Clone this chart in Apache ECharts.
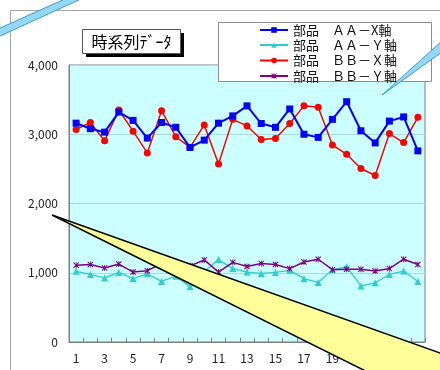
<!DOCTYPE html>
<html>
<head>
<meta charset="utf-8">
<script src="https://cdn.jsdelivr.net/npm/echarts@6/dist/echarts.min.js"></script>
<style>
  html, body { margin: 0; padding: 0; background: #ffffff; }
  #chart { width: 440px; height: 370px; }
</style>
</head>
<body>
<div id="chart"></div>
<script>
// Sample index (time steps)
const categories = ['1','2','3','4','5','6','7','8','9','10','11','12','13','14','15','16','17','18','19','20','21','22','23','24','25'];

// Measured values per part and axis
const aaX = [3160, 3080, 3030, 3320, 3200, 2945, 3170, 3100, 2810, 2915, 3160, 3265, 3410, 3155, 3100, 3365, 3000, 2955, 3215, 3470, 3050, 2875, 3190, 3250, 2760];
const aaY = [1020, 975, 925, 1005, 915, 985, 875, 950, 800, 1010, 1190, 1060, 1010, 990, 1005, 1035, 915, 860, 1045, 1085, 810, 855, 975, 1025, 875];
const bbX = [3070, 3170, 2905, 3350, 3045, 2730, 3340, 2965, 2810, 3135, 2570, 3215, 3120, 2925, 2940, 3155, 3410, 3390, 2845, 2710, 2505, 2405, 3010, 2880, 3245];
const bbY = [1110, 1120, 1070, 1125, 1010, 1030, 1130, 1090, 1100, 1185, 1010, 1150, 1090, 1135, 1120, 1060, 1155, 1195, 1045, 1050, 1050, 1025, 1060, 1195, 1120];

const seriesNames = ['部品　ＡＡ－X軸', '部品　ＡＡ－Ｙ軸', '部品　ＢＢ－Ｘ軸', '部品　ＢＢ－Ｙ軸'];
const yTicks = { min: 0, max: 4000, step: 1000 };

const FONT = '"Noto Sans CJK JP", "Noto Sans", sans-serif';
const starMark = 'path://M0,1.2 L1.2,0 L5,3.8 L8.8,0 L10,1.2 L6.2,5 L10,8.8 L8.8,10 L5,6.2 L1.2,10 L0,8.8 L3.8,5 Z M4.3,0 L5.7,0 L5.7,10 L4.3,10 Z';

const chart = echarts.init(document.getElementById('chart'), null, { renderer: 'canvas' });

function legendRow(name, centerY) {
  return {
    data: [name],
    left: 259,
    top: centerY - 8,
    padding: 0,
    itemWidth: 28,
    itemHeight: 7,
    itemGap: 0,
    selectedMode: false,
    z: 20,
    textStyle: { fontFamily: FONT, fontSize: 13, color: '#111', lineHeight: 16 }
  };
}

chart.setOption({
  animation: false,
  backgroundColor: '#ffffff',
  grid: {
    left: 69, right: 15, top: 65, bottom: 28,
    show: true,
    backgroundColor: '#CCFFFF',
    borderColor: '#7f7f7f',
    borderWidth: 1
  },
  legend: [
    legendRow(seriesNames[0], 30),
    legendRow(seriesNames[1], 45),
    legendRow(seriesNames[2], 60.5),
    legendRow(seriesNames[3], 76)
  ],
  xAxis: {
    type: 'category',
    data: categories,
    boundaryGap: true,
    axisLine: { show: true, lineStyle: { color: '#7f7f7f', width: 1 } },
    axisTick: { show: true, inside: true, length: 4, interval: 0, lineStyle: { color: '#7f7f7f' } },
    axisLabel: { interval: 1, margin: 10, fontFamily: FONT, fontSize: 12, color: '#222' },
    splitLine: { show: false }
  },
  yAxis: {
    type: 'value',
    min: yTicks.min, max: yTicks.max, interval: yTicks.step,
    axisLine: { show: true, lineStyle: { color: '#7f7f7f', width: 1 } },
    axisTick: { show: false },
    axisLabel: {
      margin: 11, fontFamily: FONT, fontSize: 12, color: '#222',
      formatter: v => v.toLocaleString('en-US')
    },
    splitLine: { show: true, lineStyle: { color: '#A8DEDE', width: 1 } }
  },
  series: [
    {
      name: seriesNames[0], type: 'line', data: aaX,
      symbol: 'rect', symbolSize: 7, z: 4,
      lineStyle: { color: '#0000FF', width: 2 },
      itemStyle: { color: '#0000FF' }
    },
    {
      name: seriesNames[1], type: 'line', data: aaY,
      symbol: 'triangle', symbolSize: 7, z: 2,
      lineStyle: { color: '#33CCCC', width: 1.3 },
      itemStyle: { color: '#33CCCC' }
    },
    {
      name: seriesNames[2], type: 'line', data: bbX,
      symbol: 'circle', symbolSize: 7, z: 3,
      lineStyle: { color: '#FF0000', width: 1.5 },
      itemStyle: { color: '#FF0000' }
    },
    {
      name: seriesNames[3], type: 'line', data: bbY,
      symbol: starMark, symbolSize: 6, z: 3,
      lineStyle: { color: '#800080', width: 1.5 },
      itemStyle: { color: '#800080' }
    }
  ],
  graphic: [
    // outer chart frame
    {
      type: 'rect', z: 0, silent: true,
      shape: { x: 10.5, y: 10.5, width: 460, height: 400 },
      style: { fill: null, stroke: '#a6a6a6', lineWidth: 1 }
    },
    // legend box
    {
      type: 'rect', z: 10, silent: true,
      shape: { x: 218.5, y: 22.5, width: 213, height: 59 },
      style: { fill: '#ffffff', stroke: '#8c8c8c', lineWidth: 1 }
    },
    // title box with shadow
    {
      type: 'rect', z: 10, silent: true,
      shape: { x: 86, y: 33, width: 98, height: 24 },
      style: { fill: '#000000' }
    },
    {
      type: 'rect', z: 11, silent: true,
      shape: { x: 82.5, y: 29.5, width: 98, height: 24 },
      style: { fill: '#ffffff', stroke: '#555555', lineWidth: 1 }
    },
    {
      type: 'text', z: 12, silent: true,
      x: 131.5, y: 42,
      style: {
        text: '時系列ﾃﾞｰﾀ', fontFamily: FONT, fontSize: 16, fill: '#000',
        textAlign: 'center', textVerticalAlign: 'middle'
      }
    },
    // blue callout pointers
    {
      type: 'polygon', z: 30, silent: true,
      shape: { points: [[-2, 29], [67, -2], [83, -2], [-2, 37]] },
      style: { fill: '#93D8F5', stroke: '#3C9CCB', lineWidth: 1 }
    },
    {
      type: 'polygon', z: 30, silent: true,
      shape: { points: [[382, 95], [442, 41], [442, 52]] },
      style: { fill: '#93D8F5', stroke: '#3C9CCB', lineWidth: 1 }
    },
    // yellow callout pointer
    {
      type: 'polygon', z: 40, silent: true,
      shape: { points: [[52, 215], [470, 363.7], [470, 420], [464, 420]] },
      style: { fill: '#FFFF99', stroke: '#000000', lineWidth: 1.5 }
    }
  ]
});
</script>
</body>
</html>
